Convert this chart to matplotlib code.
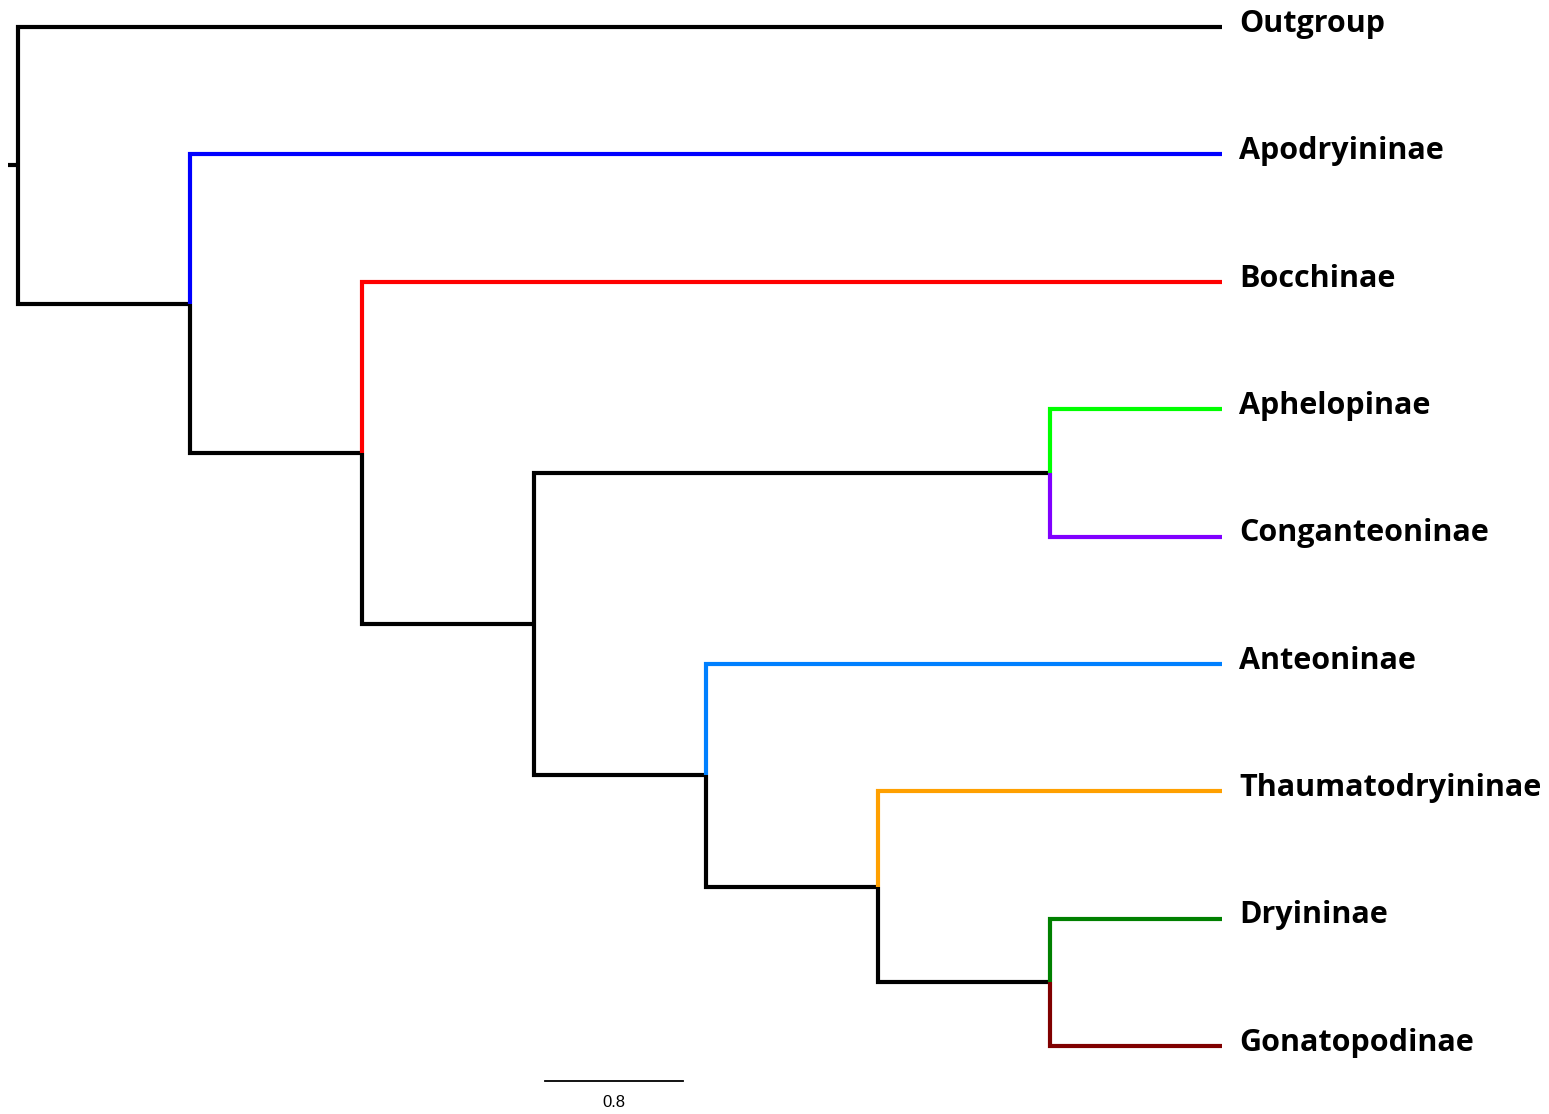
import matplotlib.pyplot as plt

# tip labels in plotting order (top to bottom) and their branch colours
taxa = ['Outgroup', 'Apodryininae', 'Bocchinae', 'Aphelopinae', 'Conganteoninae',
        'Anteoninae', 'Thaumatodryininae', 'Dryininae', 'Gonatopodinae']
tip_colors = ['#000000', '#0000FF', '#FF0000', '#00FF00', '#8000FF',
              '#0080FF', '#FFA000', '#008000', '#800000']

# edges of the tree: child, parent, branch length
edge_child = ['Outgroup', 'n1', 'Apodryininae', 'n2', 'Bocchinae', 'n3',
              'n4', 'Aphelopinae', 'Conganteoninae', 'n5', 'Anteoninae',
              'n6', 'Thaumatodryininae', 'n7', 'Dryininae', 'Gonatopodinae']
edge_parent = ['root', 'root', 'n1', 'n1', 'n2', 'n2',
               'n3', 'n4', 'n4', 'n3', 'n5',
               'n5', 'n6', 'n6', 'n7', 'n7']
edge_length = [7, 1, 6, 1, 5, 1,
               3, 1, 1, 1, 3,
               1, 2, 1, 1, 1]

scale_length = 0.8

# node depths (x) from the root
depth = {'root': 0.0}
pending = list(range(len(edge_child)))
while pending:
    for i in list(pending):
        if edge_parent[i] in depth:
            depth[edge_child[i]] = depth[edge_parent[i]] + edge_length[i]
            pending.remove(i)

# node heights (y): tips by order, internal nodes at mean of children
ypos = {t: float(i) for i, t in enumerate(taxa)}
while len(ypos) < len(depth):
    for node in depth:
        if node in ypos:
            continue
        kids = [c for c, p in zip(edge_child, edge_parent) if p == node]
        if all(k in ypos for k in kids):
            ypos[node] = sum(ypos[k] for k in kids) / len(kids)

fig = plt.figure(figsize=(15.49, 11.14), dpi=100)
ax = fig.add_axes([0, 0, 1, 1])

color_of = dict(zip(taxa, tip_colors))
# draw black branches first so coloured ones sit on top
order = sorted(range(len(edge_child)),
               key=lambda i: color_of.get(edge_child[i], '#000000') != '#000000')
for i in order:
    c, p = edge_child[i], edge_parent[i]
    col = color_of.get(c, '#000000')
    ax.plot([depth[p], depth[p], depth[c]], [ypos[p], ypos[c], ypos[c]],
            color=col, lw=3, solid_joinstyle='miter', solid_capstyle='butt')

# short stub at the root
ax.plot([-0.06, 0], [ypos['root'], ypos['root']], color='black', lw=3,
        solid_capstyle='butt')

for t in taxa:
    ax.text(depth[t] + 0.1, ypos[t] - 0.025, t, fontsize=22, fontweight='bold',
            family='Open Sans', va='center', ha='left')

# scale bar
sx, sy = 3.064, 8.275
ax.plot([sx, sx + scale_length], [sy, sy], color='black', lw=1.3)
ax.text(sx + scale_length / 2, sy + 0.17, f'{scale_length}', fontsize=12,
        family='Liberation Sans', ha='center', va='center')

ax.set_xlim(-18 / 172, 1531 / 172)
ax.set_ylim(1087 / 127.375, -27 / 127.375)
ax.axis('off')

fig.savefig('out.png', dpi=100, facecolor='white')
